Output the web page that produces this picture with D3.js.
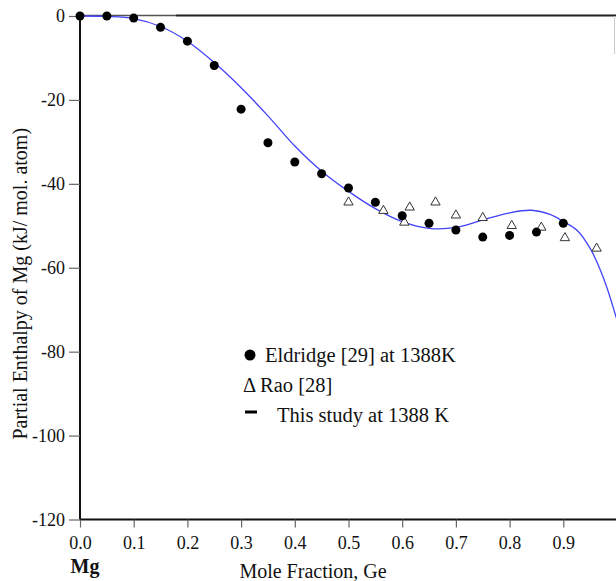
<!DOCTYPE html>
<html>
<head>
<meta charset="utf-8">
<script src="https://cdn.jsdelivr.net/npm/d3@7"></script>
<style>
  html, body { margin: 0; padding: 0; background: #fff; }
  svg { display: block; }
  text { font-family: "Liberation Serif", "Times New Roman", serif; fill: #111; }
</style>
</head>
<body>
<svg id="chart" width="616" height="581"></svg>
<script>
// Partial enthalpy of Mg in liquid Mg–Ge alloys (kJ / mol. atom)

// Calculated curve, this study at 1388 K
const curveX = [0, 0.05, 0.1, 0.15, 0.2, 0.25, 0.3, 0.35, 0.4, 0.45, 0.5, 0.55, 0.6, 0.65, 0.7, 0.75, 0.8, 0.84, 0.875, 0.9, 0.925, 0.95, 0.975, 1.0];
const curveY = [0, -0.1, -0.6, -2.5, -6.0, -11.1, -17.1, -23.8, -31.0, -37.0, -41.8, -45.9, -49.0, -50.6, -50.4, -48.6, -46.9, -46.3, -47.3, -49.0, -51.0, -55.4, -62.5, -72.5];

// Eldridge [29] at 1388 K
const eldridgeX = [0, 0.05, 0.1, 0.15, 0.2, 0.25, 0.3, 0.35, 0.4, 0.45, 0.5, 0.55, 0.6, 0.65, 0.7, 0.75, 0.8, 0.85, 0.9];
const eldridgeY = [0, 0, -0.5, -2.7, -6.0, -11.8, -22.2, -30.2, -34.8, -37.6, -41.0, -44.4, -47.6, -49.4, -51.0, -52.7, -52.3, -51.5, -49.4];

// Rao [28]
const raoX = [0.5, 0.565, 0.604, 0.614, 0.662, 0.70, 0.75, 0.804, 0.859, 0.903, 0.962];
const raoY = [-44.4, -46.4, -49.2, -45.6, -44.4, -47.5, -48.1, -50.0, -50.4, -52.9, -55.4];

// Axis ticks
const xTicks = [0, 0.1, 0.2, 0.3, 0.4, 0.5, 0.6, 0.7, 0.8, 0.9];
const yTicks = [0, -20, -40, -60, -80, -100, -120];

// Legend entries
const legendLabels = ["Eldridge [29] at 1388K", "Rao [28]", "This study at 1388 K"];

const svg = d3.select("#chart");

const x = d3.scaleLinear().domain([0, 1]).range([80, 617]);
const y = d3.scaleLinear().domain([-120, 0]).range([519.5, 16]);

// frame line along the top and a short stub on the right
svg.append("line").attr("x1", 80).attr("x2", 176).attr("y1", 15.5).attr("y2", 15.5)
  .attr("stroke", "#555").attr("stroke-width", 1.5);
svg.append("line").attr("x1", 176).attr("x2", 616).attr("y1", 15.5).attr("y2", 15.5)
  .attr("stroke", "#222").attr("stroke-width", 2);
svg.append("line").attr("x1", 614.5).attr("x2", 614.5).attr("y1", 16).attr("y2", 54)
  .attr("stroke", "#ccc").attr("stroke-width", 1);

// x axis
const xAxis = svg.append("g")
  .attr("transform", `translate(0,${y(-120)})`)
  .call(d3.axisBottom(x).tickValues(xTicks).tickFormat(d3.format(".1f")).tickSize(8).tickPadding(9));
xAxis.select(".domain").attr("d", `M80,0H616`).attr("stroke", "#111").attr("stroke-width", 2);
xAxis.selectAll(".tick line").attr("stroke", "#666").attr("stroke-width", 1.2);
xAxis.selectAll(".tick text").attr("font-size", 18).attr("font-family", "Liberation Serif").attr("fill", "#111");

// y axis
const yAxis = svg.append("g")
  .attr("transform", `translate(${x(0)},0)`)
  .call(d3.axisLeft(y).tickValues(yTicks).tickFormat(d => String(d)).tickSize(11).tickPadding(4));
yAxis.select(".domain").attr("d", `M0,${y(0)}V${y(-120)}`).attr("stroke", "#111").attr("stroke-width", 2);
yAxis.selectAll(".tick line").attr("stroke", "#666").attr("stroke-width", 1.2);
yAxis.selectAll(".tick text").attr("font-size", 18).attr("font-family", "Liberation Serif").attr("fill", "#111");

// calculated curve
const curvePts = curveX.map((d, i) => [d, curveY[i]]);
svg.append("path")
  .datum(curvePts)
  .attr("fill", "none")
  .attr("stroke", "#4343f7")
  .attr("stroke-width", 1.3)
  .attr("d", d3.line().x(d => x(d[0])).y(d => y(d[1])).curve(d3.curveCatmullRom.alpha(0.5)));

// Rao triangles
const tri = d3.symbol().type(d3.symbolTriangle).size(38);
svg.append("g").selectAll("path")
  .data(raoX.map((d, i) => [d, raoY[i]]))
  .join("path")
  .attr("d", tri)
  .attr("transform", d => `translate(${x(d[0])},${y(d[1])})`)
  .attr("fill", "#fff")
  .attr("stroke", "#333")
  .attr("stroke-width", 1);

// Eldridge dots
svg.append("g").selectAll("circle")
  .data(eldridgeX.map((d, i) => [d, eldridgeY[i]]))
  .join("circle")
  .attr("cx", d => x(d[0]))
  .attr("cy", d => y(d[1]))
  .attr("r", 4.5)
  .attr("fill", "#000");

// legend
const lg = svg.append("g");
lg.append("circle").attr("cx", 250).attr("cy", 355).attr("r", 5.5).attr("fill", "#000");
lg.append("text").attr("x", 265).attr("y", 362).attr("font-size", 20.5).text(legendLabels[0]);
lg.append("text").attr("x", 243).attr("y", 392).attr("font-size", 20.5).text("\u0394");
lg.append("text").attr("x", 260).attr("y", 392).attr("font-size", 20.5).text(legendLabels[1]);
lg.append("line").attr("x1", 245).attr("x2", 257).attr("y1", 412).attr("y2", 412)
  .attr("stroke", "#000").attr("stroke-width", 3);
lg.append("text").attr("x", 277).attr("y", 422).attr("font-size", 20.5).text(legendLabels[2]);

// axis titles
svg.append("text")
  .attr("transform", `translate(27,${(y(0) + y(-120)) / 2 + 16}) rotate(-90)`)
  .attr("text-anchor", "middle")
  .attr("font-size", 20)
  .text("Partial Enthalpy of Mg (kJ/ mol. atom)");

svg.append("text")
  .attr("x", 85).attr("y", 573)
  .attr("text-anchor", "middle")
  .attr("font-size", 20)
  .attr("font-weight", "bold")
  .text("Mg");

svg.append("text")
  .attr("x", 313).attr("y", 578)
  .attr("text-anchor", "middle")
  .attr("font-size", 20)
  .text("Mole Fraction, Ge");
</script>
</body>
</html>
